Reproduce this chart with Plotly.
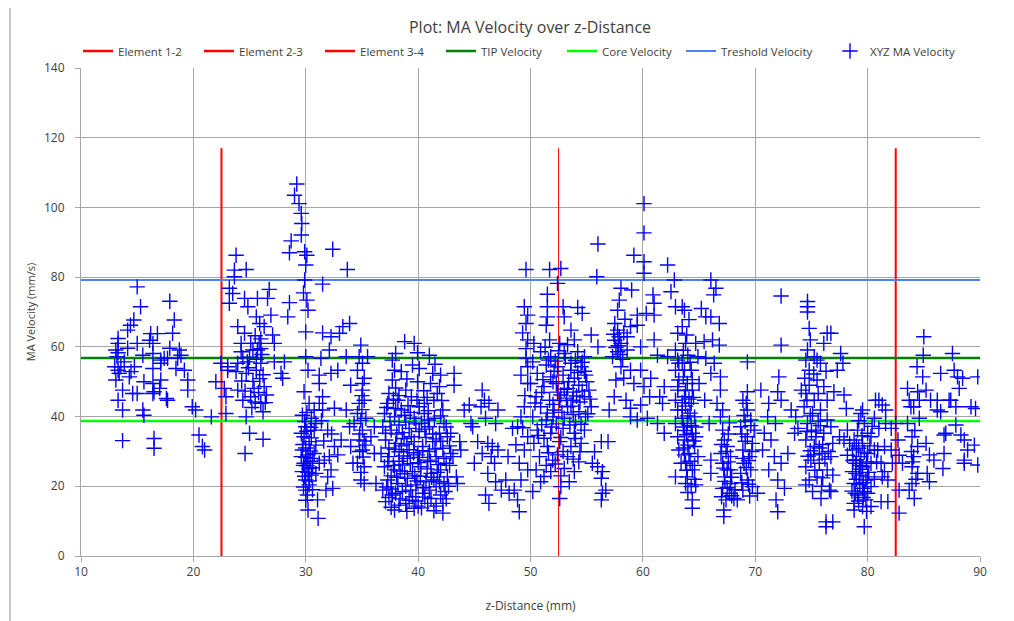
import plotly.graph_objects as go

# ---- reference lines ----
element_names = ["Element 1-2", "Element 2-3", "Element 3-4"]
element_z = [22.5, 52.5, 82.5]
element_top = 117
element_widths = [2, 1, 2]
tip_velocity = 56.8
core_velocity = 38.7
threshold_velocity = 79.2
z_range = [10, 90]

# ---- XYZ MA velocity samples (z-distance mm, velocity mm/s) ----
seg_10_23 = [(15.0,77.2),(15.3,71.5),(17.9,73.1),(14.7,67.7),(14.4,66.2),(14.15,64.8),
 (13.3,62.4),(13.3,61.0),(13.1,59.1),(13.3,58.3),(13.2,57.2),(13.0,54.3),(13.3,53.3),(13.1,50.5),
 (13.4,52.4),(13.55,54.3),(13.85,55.7),(14.15,59.6),(15.0,61.0),(15.5,57.6),(16.2,63.8),(16.1,61.9),
 (16.4,61.0),(16.8,63.8),(16.4,58.1),(17.1,56.2),(17.4,56.7),(17.7,56.7),(17.9,59.6),(18.3,67.7),
 (18.15,63.9),(18.75,59.1),(18.9,57.6),(18.6,56.7),(14.75,54.3),(14.45,52.9),(14.3,51.4),(16.4,53.8),
 (17.1,55.3),(18.45,53.8),(19.2,53.3),(19.5,50.5),(19.5,47.6),(15.6,50.0),(16.4,49.5),(17.1,50.5),
 (17.0,48.1),(16.5,47.1),(14.6,46.6),(15.0,46.6),(13.7,47.6),(13.3,44.7),(13.7,41.9),(15.5,41.9),
 (15.6,40.4),(16.4,46.6),(17.6,45.2),(17.7,44.7),(19.9,42.8),(20.2,41.9),(20.5,34.7),(20.8,31.4),
 (21.0,30.4),(13.7,33.1),(16.5,33.7),(16.5,30.9),(21.6,39.9),(22.0,50.0),(22.45,55.3),(22.75,48.1),
 (23.05,53.3),(22.9,45.7),(22.9,40.9),(23.2,76.8),(23.2,72.5),(23.05,54.3)]

seg_23_37 = [(29.2,106.7),(29.0,103.5),(29.4,101.1),(29.6,98.3),(29.65,95.4),(29.6,92.1),(28.7,90.4),
 (28.55,87.0),(29.9,87.3),(30.1,86.3),(30.0,83.5),(32.4,88.0),(33.7,82.2),(31.5,78.0),(29.9,79.2),
 (29.8,75.5),(30.1,73.4),(30.2,70.5),(28.4,68.6),(28.55,72.7),(30.0,64.3),(31.5,64.0),(32.25,62.9),
 (33.0,63.9),(33.3,65.8),(33.9,66.7),
 (23.8,86.3),(23.65,82.0),(24.7,82.2),(23.65,80.1),(23.5,75.3),(24.55,73.9),(25.7,73.9),(26.75,76.5),
 (26.6,73.9),(24.85,71.5),(25.6,68.6),(25.9,66.7),(26.9,69.1),(26.3,65.8),(23.95,65.8),(24.55,63.9),
 (27.05,63.4),(27.2,61.0),(25.1,61.0),(25.7,59.1),(24.25,58.6),(23.95,55.3),(24.8,55.7),(26.0,55.3),
 (27.2,55.7),(28.1,55.7),(23.8,52.9),(24.7,52.4),(25.6,53.3),(26.3,48.6),(25.4,48.1),(23.95,47.6),
 (24.4,44.7),(25.1,45.7),(26.0,43.8),(26.2,41.4),(24.7,39.9),(25.0,35.2),(26.2,33.5),(24.6,29.4),
 (27.8,52.4),(27.95,51.0),(25.85,61.0),(25.3,59.1),(24.25,61.0),(25.0,57.0),(26.1,57.8),(24.3,50.2),
 (25.9,50.9),(26.5,46.2),(25.2,42.6),(25.5,63.2),(26.0,62.3),(24.9,54.0),(25.6,56.4),(26.2,52.0),
 (25.3,50.1),(25.8,46.9),(24.6,47.3),(26.0,59.5),(25.5,44.2),(26.4,44.0),(24.4,56.9),
 (30.0,57.2),(30.2,53.3),(29.85,47.1),(30.3,43.8),(29.7,40.4),(30.5,39.5),(30.0,37.1),(30.75,36.1),
 (29.85,34.2),(30.3,32.8),(30.9,31.8),(29.7,30.4),(30.2,29.0),(30.6,28.0),(29.85,26.6),(30.3,25.1),
 (29.7,24.2),(30.5,23.2),(30.0,21.8),(30.3,20.4),(30.0,18.9),(30.15,17.5),(31.05,16.1),(30.2,13.2),
 (31.1,10.8),(30.75,41.9),(31.2,43.8),(30.9,38.0),(29.6,35.2),(30.75,29.4),(31.2,26.6),(30.9,23.7),
 (29.6,28.5),(30.0,31.0),(30.4,27.2),(29.9,22.9),(30.1,25.9),(30.5,33.9),(29.8,19.8),
 (30.1,35.8),(29.9,38.6),(30.4,30.1),(30.2,24.0),(29.8,26.0),(30.0,16.0),(30.3,21.5),(30.6,19.0),
 (29.75,32.0),(30.45,36.9),(30.1,41.2),(30.6,25.3),(30.0,28.3),
 (31.2,51.9),(31.2,49.5),(31.5,45.7),(32.25,52.4),(32.85,53.3),(31.5,41.9),(32.55,42.4),(31.95,36.1),
 (33.15,33.3),(32.55,31.4),(31.65,27.5),(32.1,28.5),(32.25,24.7),(32.85,29.0),(31.95,22.7),(31.8,18.9),
 (32.4,19.4),(31.35,56.7),(32.1,59.1),(33.6,57.2),(34.0,49.0),(33.6,41.9),(33.9,37.1),(34.2,26.6),
 (34.0,31.4),(31.6,33.0),(32.3,35.0),(31.4,38.8),
 (34.9,60.5),(34.75,57.2),(35.05,55.3),(34.6,53.3),(35.2,51.0),(35.05,47.6),(35.2,44.7),(34.75,43.8),
 (34.6,40.9),(35.35,39.5),(34.3,38.0),(35.05,36.1),(34.75,33.3),(35.35,31.8),(35.05,30.4),(34.6,26.6),
 (35.2,25.6),(34.9,21.8),(35.2,20.8),(35.8,34.2),(36.1,29.4),(36.25,20.8),(36.1,37.1),(35.5,57.2),
 (35.05,49.5),(34.8,35.0),(35.1,28.4),(34.9,24.0),(35.0,42.0),(34.9,38.9),(35.2,33.0),(34.8,30.0),
 (35.0,46.0)]

seg_37_50 = [(38.8,61.5),(39.65,61.0),(38.0,58.1),(39.95,58.3),(41.0,57.6),(37.7,56.2),(37.9,53.3),
 (38.5,52.9),(39.5,54.8),(40.1,53.8),(41.3,52.4),(42.0,51.9),(37.7,50.5),(38.9,47.6),(39.95,50.0),
 (41.1,49.5),(41.9,48.6),(37.3,43.8),(38.2,44.7),(39.4,45.7),(40.55,43.8),(41.4,44.7),(42.2,41.9),
 (37.0,40.9),(37.9,39.9),(38.8,40.4),(39.65,39.5),(40.55,40.9),(41.45,39.5),(42.3,38.0),
 (36.85,37.1),(37.6,36.1),(38.3,37.6),(39.2,36.6),(40.1,35.7),(41.0,37.1),(41.9,35.2),(42.6,34.2),
 (37.1,33.3),(38.0,32.3),(38.75,33.7),(39.65,32.8),(40.4,31.4),(41.3,32.8),(42.2,30.9),(42.9,29.4),
 (36.7,29.4),(37.4,28.5),(38.3,29.9),(39.05,28.0),(39.95,29.0),(40.85,27.5),(41.6,28.5),(42.5,26.6),
 (37.0,25.6),(37.9,24.7),(38.6,26.1),(39.5,24.2),(40.25,25.6),(41.15,23.7),(42.0,24.7),(42.6,22.7),
 (37.3,21.8),(38.2,20.8),(39.05,22.3),(39.8,20.4),(40.7,21.3),(41.6,19.9),(42.3,20.8),
 (36.85,18.9),(37.7,17.5),(38.6,18.5),(39.5,17.0),(40.4,18.0),(41.15,16.5),(42.0,17.5),
 (37.1,15.6),(37.9,13.2),(38.9,15.1),(39.65,13.7),(40.85,15.1),(42.2,12.3),(42.2,15.1),(39.35,18.9),
 (38.5,41.9),(40.1,42.8),(41.7,46.6),(37.4,46.6),
 (37.4,31.0),(38.3,27.2),(39.2,30.5),(40.0,26.8),(41.0,30.0),(41.8,26.2),(37.6,23.0),(38.8,23.6),
 (40.2,22.9),(41.4,21.8),(38.1,35.0),(39.4,34.2),(40.7,34.0),(41.6,33.6),(38.9,38.4),(40.3,38.1),
 (37.2,19.8),(38.4,16.4),(39.8,15.8),(41.0,18.9),(39.1,43.1),(40.9,41.7),(38.0,48.2),(40.5,47.4),
 (42.1,44.6),(37.8,45.0),(39.0,50.8),(41.5,55.0),
 (37.5,38.6),(38.0,42.3),(38.6,35.4),(39.0,32.1),(39.8,37.9),(40.6,36.4),(41.3,35.0),(42.0,32.9),
 (37.3,27.1),(37.9,30.6),(38.5,31.6),(39.3,26.5),(40.1,28.3),(40.8,25.0),(41.5,30.7),(42.3,28.0),
 (37.6,19.2),(38.1,22.6),(38.9,20.0),(39.7,23.0),(40.5,19.6),(41.2,22.6),(41.9,21.3),(42.4,18.5),
 (37.4,16.8),(38.3,14.6),(39.2,16.0),(40.0,14.3),(40.6,16.9),(41.6,14.3),(42.5,16.4),(39.9,44.7),
 (38.3,46.0),(40.8,45.5),(37.1,35.2),(42.5,37.0),(37.8,26.0),(39.6,29.6),(41.1,27.1),(40.4,30.2),
 (38.7,28.7),(42.0,40.2),(37.2,42.6),(39.3,41.2),(40.9,39.0),(38.4,24.4),(41.7,24.0),(39.9,21.5),
 (42.7,20.0),(38.0,18.0),(40.3,13.8),(41.4,13.0),(39.0,12.8),(37.6,14.0),(42.8,26.0),(42.8,31.6),
 (42.9,35.2),(43.2,52.4),(43.2,49.0),(43.1,28.5),(43.7,32.8),(43.8,30.4),(43.4,22.7),(43.5,20.8),
 (44.1,41.9),(44.55,43.3),(44.85,37.1),(45.0,26.6),(44.7,38.0),
 (45.7,47.6),(45.9,44.7),(45.6,42.8),(46.3,43.8),(47.1,41.9),(46.0,39.5),(46.9,38.0),(45.3,32.8),
 (46.2,32.3),(46.6,31.4),(47.1,30.4),(45.7,29.4),(46.5,28.5),(46.8,26.6),(46.2,23.7),(46.9,21.3),
 (47.4,18.9),(46.0,17.5),(46.3,15.1),(48.0,28.5),(47.8,21.8),(48.1,18.0),(48.4,36.6),(48.85,37.1),
 (49.6,82.2),(49.45,71.5),(49.75,69.1),(49.6,66.7),(49.75,62.0),(49.6,56.7),(49.75,54.3),(49.15,51.9),
 (49.75,49.5),(49.45,42.8),(49.15,39.9),(49.0,26.6),(49.15,21.8),(48.85,16.1),(49.0,12.7),(49.75,34.2),
 (49.45,30.4),(49.75,24.7),(48.55,18.9),(49.5,46.0),(49.3,36.8),(48.7,31.9),(49.6,59.5),(49.3,64.0)]

seg_50_63 = [(60.1,101.1),(60.1,92.7),(56.0,89.5),(59.2,86.3),(60.1,84.4),(62.2,83.5),(55.9,80.1),
 (52.7,82.5),(51.7,82.2),(52.4,78.2),(60.1,81.1),(51.5,75.1),(62.8,79.2),(62.5,75.8),(59.0,76.3),
 (60.9,74.9),(61.0,72.5),(58.05,76.8),
 (51.5,71.5),(52.9,71.5),(54.2,71.3),(54.6,69.6),(53.0,68.6),(51.5,68.6),(51.4,66.2),(53.6,64.8),
 (55.4,63.4),(50.3,61.0),(51.7,62.0),(52.6,61.0),(53.9,62.0),(56.0,60.0),
 (50.9,58.6),(51.8,57.2),(53.0,58.1),(54.2,58.6),(54.8,57.2),(50.2,55.7),(51.4,54.8),(52.4,54.3),
 (53.6,55.3),(54.5,54.3),(50.6,52.4),(51.8,51.4),(52.9,51.9),(53.9,51.0),(54.9,51.9),(50.0,49.5),
 (51.2,48.6),(52.3,49.5),(53.3,48.1),(54.3,49.0),(55.2,47.6),(50.5,45.7),(51.7,44.7),(52.7,46.2),
 (53.75,44.7),(54.8,45.7),(50.9,42.8),(52.1,41.9),(53.3,42.8),(54.3,41.4),(55.4,42.8),
 (50.2,39.9),(51.4,39.0),(53.0,39.5),(54.0,38.5),(54.9,39.9),(50.6,36.1),(51.8,35.2),(52.9,36.6),
 (53.9,35.2),(54.8,36.1),(50.3,32.3),(51.5,31.4),(52.6,32.8),(53.6,31.4),(54.5,32.3),(50.8,28.5),
 (51.97,27.5),(53.3,28.5),(54.3,27.0),(50.5,24.7),(51.8,24.2),(53.0,25.1),(53.9,24.2),(50.9,21.3),
 (52.7,19.9),(53.45,21.3),(50.2,18.5),(52.6,16.5),(52.0,39.9),(53.6,53.3),
 (51.1,50.6),(52.4,47.0),(53.2,45.3),(54.6,47.3),(52.1,53.0),(54.0,56.1),(51.0,46.9),(53.8,40.6),
 (52.3,37.9),(51.2,33.8),(54.0,33.7),(52.9,30.0),(51.6,29.6),(54.4,29.9),(52.2,26.4),(50.7,34.6),
 (52.5,58.9),(53.3,60.6),(51.3,59.9),(54.8,53.0),
 (52.0,43.5),(52.8,41.2),(53.6,43.0),(54.4,44.2),(51.5,41.0),(52.6,44.6),(53.4,50.0),(54.2,52.6),
 (52.0,50.0),(51.6,56.2),(53.1,56.9),(54.6,55.6),(55.0,50.0),(52.7,34.0),(53.5,37.6),(54.5,37.8),
 (51.9,37.0),(52.4,29.0),(53.8,27.8),(51.4,26.0),(52.7,23.0),(51.2,22.8),(54.1,45.9),(55.3,45.0),
 (50.4,43.9),(51.0,37.7),(53.0,47.8),(52.2,55.9),(53.8,47.0),(55.1,40.8),
 (56.3,32.8),(56.9,32.8),(55.5,26.6),(55.97,25.6),(56.4,24.2),(56.3,22.3),(56.7,18.9),(56.3,16.1),
 (56.4,18.0),(55.7,29.9),(57.0,41.9),
 (57.9,73.4),(57.75,70.5),(57.5,66.7),(57.75,64.8),(57.5,61.9),(58.05,61.0),(58.6,62.9),(58.9,65.8),
 (59.5,69.1),(60.3,69.6),(61.0,69.1),(57.75,58.6),(58.6,59.1),(57.3,57.2),(58.05,54.3),(58.9,53.3),
 (59.8,53.3),(57.6,50.5),(58.3,51.0),(59.2,49.5),(60.1,48.6),(60.7,51.0),(61.9,48.6),(57.45,45.7),
 (58.5,44.7),(58.9,42.4),(59.8,43.3),(60.6,45.7),(61.5,45.7),(61.75,43.8),(58.9,39.9),(59.5,39.0),
 (60.4,39.5),(61.3,38.0),(61.9,35.2),(61.0,62.0),(61.3,57.6),(62.2,57.2),(59.8,60.0),(59.5,66.2),
 (57.9,62.9),(58.2,56.4),(57.8,60.3),(58.4,67.9),(57.6,59.8),(58.0,57.8),(57.4,63.6),(58.3,64.0),
 (62.9,71.5),(63.1,63.9),(62.9,59.1),(63.1,56.2),(62.9,53.3),(63.2,50.5),(63.1,47.6),(62.9,44.7),
 (63.1,41.9),(62.9,38.0),(63.1,34.2),(63.2,30.4),(62.9,22.7),(63.1,48.6),(63.2,55.3)]

seg_63_77 = [(63.5,71.5),(63.7,70.5),(63.5,65.8),(63.8,61.0),(63.5,55.3),(63.7,53.3),(64.3,53.3),
 (63.95,49.5),(64.4,47.6),(63.7,45.7),(64.3,43.8),(63.5,41.9),(64.6,39.9),(63.95,38.0),(64.4,35.2),
 (63.7,33.3),(64.6,31.4),(64.1,29.4),(63.8,26.6),(64.4,24.7),(63.95,22.7),(64.3,19.9),(64.4,16.1),
 (64.4,13.7),(64.7,34.2),(64.9,28.5),(63.4,26.6),(63.6,51.4),(64.0,57.6),(63.8,43.0),(64.2,41.0),
 (63.6,37.0),(64.0,31.8),(63.7,29.0),(64.5,45.5),(63.9,63.4),(64.1,67.8),
 (63.6,59.0),(64.2,55.6),(63.8,47.5),(64.1,45.0),(63.5,39.5),(64.3,37.4),(63.9,34.8),(64.5,33.0),
 (63.6,31.0),(64.2,27.2),(63.9,24.6),(64.6,22.0),(64.0,18.2),(63.8,20.8),(64.6,26.0),(64.4,50.6),
 (63.5,44.0),(64.0,40.2),(64.7,37.0),(63.7,36.0),
 (66.05,79.2),(66.5,76.8),(66.3,74.9),(65.2,71.0),(65.6,68.6),(66.05,68.6),(66.8,66.7),(64.7,61.0),
 (65.45,61.5),(66.2,62.0),(66.8,60.5),(64.9,57.2),(65.6,56.7),(66.35,55.3),(66.9,51.4),(66.05,52.4),
 (65.0,49.5),(65.5,44.7),(66.9,47.6),(66.6,43.8),(65.9,38.0),(66.9,39.9),(66.05,27.5),(66.05,23.7),
 (64.7,20.4),
 (67.1,36.1),(67.25,33.3),(67.5,31.4),(66.95,29.4),(67.8,28.5),(67.1,26.6),(67.5,24.7),(67.25,22.7),
 (67.8,20.8),(67.1,19.4),(67.7,18.0),(67.4,16.1),(68.1,16.5),(67.2,11.3),(67.2,13.2),(67.1,41.9),
 (67.8,24.7),(67.4,30.0),(67.6,27.0),(67.3,21.4),(67.9,17.3),(67.0,32.0),(67.6,35.0),(67.2,25.2),
 (67.9,22.6),(67.0,17.0),(67.5,19.6),(68.2,19.0),(67.7,38.2),
 (69.3,55.7),(69.3,47.1),(68.9,44.7),(69.3,41.9),(69.6,39.0),(68.7,37.1),(69.3,34.2),(69.75,32.3),
 (68.9,30.4),(69.5,28.5),(69.0,26.6),(69.6,24.7),(68.7,23.7),(69.3,21.8),(69.75,19.9),(68.9,18.9),
 (70.2,18.0),(68.4,16.1),(69.2,43.8),(69.9,36.1),(69.1,32.9),(69.4,27.4),(68.8,35.0),(69.4,20.6),
 (69.0,40.3),(69.6,37.4),(68.9,28.0),(69.7,30.0),(69.2,25.4),(68.8,21.0),(69.5,17.2),(69.1,38.6),
 (70.5,47.6),(71.2,43.8),(72.0,47.1),(72.1,51.4),(72.3,60.5),(72.3,74.6),(70.8,35.2),(71.4,33.3),
 (70.65,30.4),(71.7,28.5),(72.3,26.6),(71.2,24.7),(72.0,21.8),(72.6,19.4),(71.85,16.1),(72.0,12.7),
 (72.9,29.4),(73.2,41.9),(73.6,39.9),(73.8,36.6),(73.5,35.2),(71.8,38.0),(71.1,39.9),(72.3,44.7),
 (74.65,73.0),(74.65,71.5),(74.65,70.0),(74.8,65.3),(74.65,59.1),(74.5,56.2),(75.25,57.2),(76.1,61.0),
 (76.4,63.9),(75.8,55.3),(74.8,53.3),(75.5,50.5),(74.5,46.6),(75.25,44.7),(76.1,48.6),(74.35,42.8),
 (75.1,40.9),(75.8,41.9),(76.4,39.0),(74.65,38.0),(75.4,36.1),(76.1,35.2),(74.5,33.3),(75.25,31.4),
 (75.95,29.4),(74.95,27.5),(75.7,26.6),(76.4,24.7),(74.5,25.6),(75.5,22.7),(74.5,20.4),(75.85,16.5),
 (76.3,9.8),(76.3,8.4),(76.6,18.9),(74.1,47.6),(75.5,56.2),(76.4,44.7),(75.4,34.2),(74.8,21.8),
 (74.9,62.0),(75.2,52.2),(74.8,49.0),(75.6,38.7),(74.9,30.2),(76.0,32.0),(75.9,20.0),
 (74.6,44.6),(75.0,35.6),(75.8,37.4),(76.2,27.8),(74.7,28.6),(75.3,24.6),(76.0,22.4),(74.9,40.2),
 (75.6,46.6),(76.3,53.0),(74.4,51.0),(75.2,29.0),(75.7,31.0),(74.6,35.8),(76.5,30.0),(75.1,18.5)]

seg_77_90 = [(76.73,63.9),(76.73,37.1),(76.9,32.3),(76.73,28.5),(76.9,23.2),(76.73,18.5),(76.9,9.8),
 (77.6,58.1),(77.8,55.3),(77.3,53.3),(77.0,47.1),(77.9,46.2),(78.1,42.3),(78.2,36.1),(77.9,33.3),
 (78.4,32.3),(78.2,28.9),(78.95,23.7),(79.7,8.4),(77.5,34.2),
 (79.55,41.9),(79.4,40.9),(79.7,38.0),(79.1,36.1),(80.0,35.2),(78.8,33.3),(79.55,32.3),(80.3,34.2),
 (78.65,30.4),(79.4,28.5),(80.0,29.4),(80.6,30.4),(78.95,26.6),(79.55,25.6),(80.3,26.6),(78.65,24.2),
 (79.25,23.2),(79.85,21.8),(78.8,20.8),(79.55,19.4),(80.3,19.9),(79.1,17.5),(79.85,16.1),(78.8,15.1),
 (79.55,14.2),(78.8,13.2),(80.3,14.2),(81.2,15.6),(81.8,15.6),(81.3,22.7),(81.8,21.8),(80.9,30.4),
 (81.5,31.4),(82.1,30.4),(81.0,44.7),(81.3,43.3),(80.7,44.7),(81.6,41.9),(80.6,39.5),(81.6,38.0),
 (81.0,36.6),(82.1,36.6),(81.2,26.6),(81.5,24.2),(82.2,26.6),(80.0,22.7),(79.7,18.5),
 (79.2,30.9),(79.0,27.6),(79.4,24.9),(79.9,27.0),(79.3,20.5),(78.9,18.0),(79.6,16.8),(80.1,24.0),
 (79.0,22.0),(79.3,26.0),(79.7,29.8),(79.0,31.6),(79.5,34.5),(80.2,31.6),(79.2,38.8),(80.4,37.2),
 (78.7,27.4),(79.6,21.0),(80.0,18.0),(79.2,15.8),(80.6,22.0),(80.8,27.0),(79.9,12.8),(78.6,18.6),
 (82.7,33.3),(82.8,28.9),(82.8,18.9),(82.8,12.3),(83.1,26.6),(83.55,38.0),(82.5,38.0),
 (83.55,48.1),(83.7,44.7),(83.85,42.8),(84.45,47.1),(85.2,47.6),(84.6,44.7),(85.6,44.7),(85.0,62.9),
 (84.95,57.6),(84.4,54.3),(84.9,51.4),(84.1,42.8),(84.6,39.5),(83.95,34.2),(84.45,31.4),(84.1,28.5),
 (83.95,25.6),(84.45,23.7),(83.95,20.8),(84.15,16.5),(83.7,18.9),(85.3,23.7),(85.5,21.3),(85.2,32.3),
 (85.5,29.0),(85.9,27.5),(86.2,41.9),(86.7,25.1),(86.8,29.4),(86.5,52.4),(86.2,44.7),(86.95,35.2),
 (84.0,27.0),(84.3,22.0),(83.9,30.0),(84.2,36.0),
 (87.55,58.1),(87.7,53.3),(88.0,51.4),(88.15,48.1),(87.4,44.7),(87.85,42.8),(87.25,44.7),(87.85,37.6),
 (88.3,34.7),(88.6,33.3),(88.9,30.4),(88.6,27.5),(88.6,26.6),(89.2,42.8),(89.6,42.3),(89.8,26.1),
 (89.5,31.8),(89.8,51.4),(88.45,51.0),(86.8,34.7),(86.5,41.4)]

samples = seg_10_23 + seg_23_37 + seg_37_50 + seg_50_63 + seg_63_77 + seg_77_90
z_distance = [p[0] for p in samples]
ma_velocity = [p[1] for p in samples]

fig = go.Figure()
for name, z, w in zip(element_names, element_z, element_widths):
    # visible line (no legend) + legend entry drawn with the thick red stroke
    fig.add_trace(go.Scatter(x=[z, z], y=[0, element_top], mode="lines", name=name,
                             line=dict(color="#FF0000", width=w), showlegend=False,
                             legendgroup=name))
    fig.add_trace(go.Scatter(x=[None], y=[None], mode="lines", name=name,
                             line=dict(color="#FF0000", width=2.5), legendgroup=name))
fig.add_trace(go.Scatter(x=z_range, y=[tip_velocity]*2, mode="lines", name="TIP Velocity",
                         line=dict(color="#008000", width=2.5)))
fig.add_trace(go.Scatter(x=z_range, y=[core_velocity]*2, mode="lines", name="Core Velocity",
                         line=dict(color="#00FF00", width=2.5)))
fig.add_trace(go.Scatter(x=z_range, y=[threshold_velocity]*2, mode="lines", name="Treshold Velocity",
                         legend="legend2", line=dict(color="#4F81F0", width=2)))
fig.add_trace(go.Scatter(x=z_distance, y=ma_velocity, mode="markers", name="XYZ MA Velocity",
                         legend="legend2",
                         marker=dict(symbol="cross-thin-open", size=11, color="#0000FF",
                                     line=dict(color="#0000FF", width=1.4))))

# the page body adds an 8 px offset, so the figure margins are shifted to compensate
L, R, T, B = 73, 42, 60, 73
plot_w = 1014 - L - R
plot_h = 621 - T - B
font_family = "Open Sans, DejaVu Sans, sans-serif"
legend_font = dict(size=11.5, color="#404040")
fig.update_layout(
    width=1014, height=621,
    margin=dict(l=L, r=R, t=T, b=B, autoexpand=False),
    paper_bgcolor="white", plot_bgcolor="white",
    font=dict(family=font_family, size=11, color="#404040"),
    title=dict(text="Plot: MA Velocity over z-Distance", x=(530 - 8) / 1014, xanchor="center",
               y=1 - 19/621, yanchor="middle", font=dict(size=16, color="#404040")),
    showlegend=True,
    legend=dict(orientation="h", xref="container", yref="container",
                x=70/1014, xanchor="left", y=1 - 43/621, yanchor="middle",
                entrywidth=76, entrywidthmode="pixels", itemwidth=30,
                font=legend_font, bgcolor="rgba(0,0,0,0)"),
    legend2=dict(orientation="h", xref="container", yref="container",
                 x=673/1014, xanchor="left", y=1 - 43/621, yanchor="middle",
                 entrywidth=104, entrywidthmode="pixels", itemwidth=30,
                 font=legend_font, bgcolor="rgba(0,0,0,0)"),
    xaxis=dict(range=[10, 90], dtick=10, tick0=10, showgrid=True, gridcolor="#A6A6A6",
               gridwidth=1, zeroline=False, showline=True, linecolor="#A6A6A6",
               ticks="outside", ticklen=5, tickcolor="#A6A6A6",
               title=dict(text="z-Distance (mm)", font=dict(size=12), standoff=22),
               tickfont=dict(size=12)),
    yaxis=dict(range=[0, 140], dtick=20, showgrid=True, gridcolor="#A6A6A6", gridwidth=1,
               zeroline=False, showline=True, linecolor="#A6A6A6",
               ticks="outside", ticklen=5, tickcolor="#A6A6A6", ticklabelstandoff=8,
               title=dict(text="MA Velocity (mm/s)", font=dict(size=11), standoff=6),
               tickfont=dict(size=12)),
    shapes=[dict(type="line", xref="paper", yref="paper", x0=(2 - L)/plot_w, x1=(2 - L)/plot_w,
                 y0=-B/plot_h, y1=1 + T/plot_h, line=dict(color="#8C8C8C", width=1))],
)

fig.write_html("out.html")
